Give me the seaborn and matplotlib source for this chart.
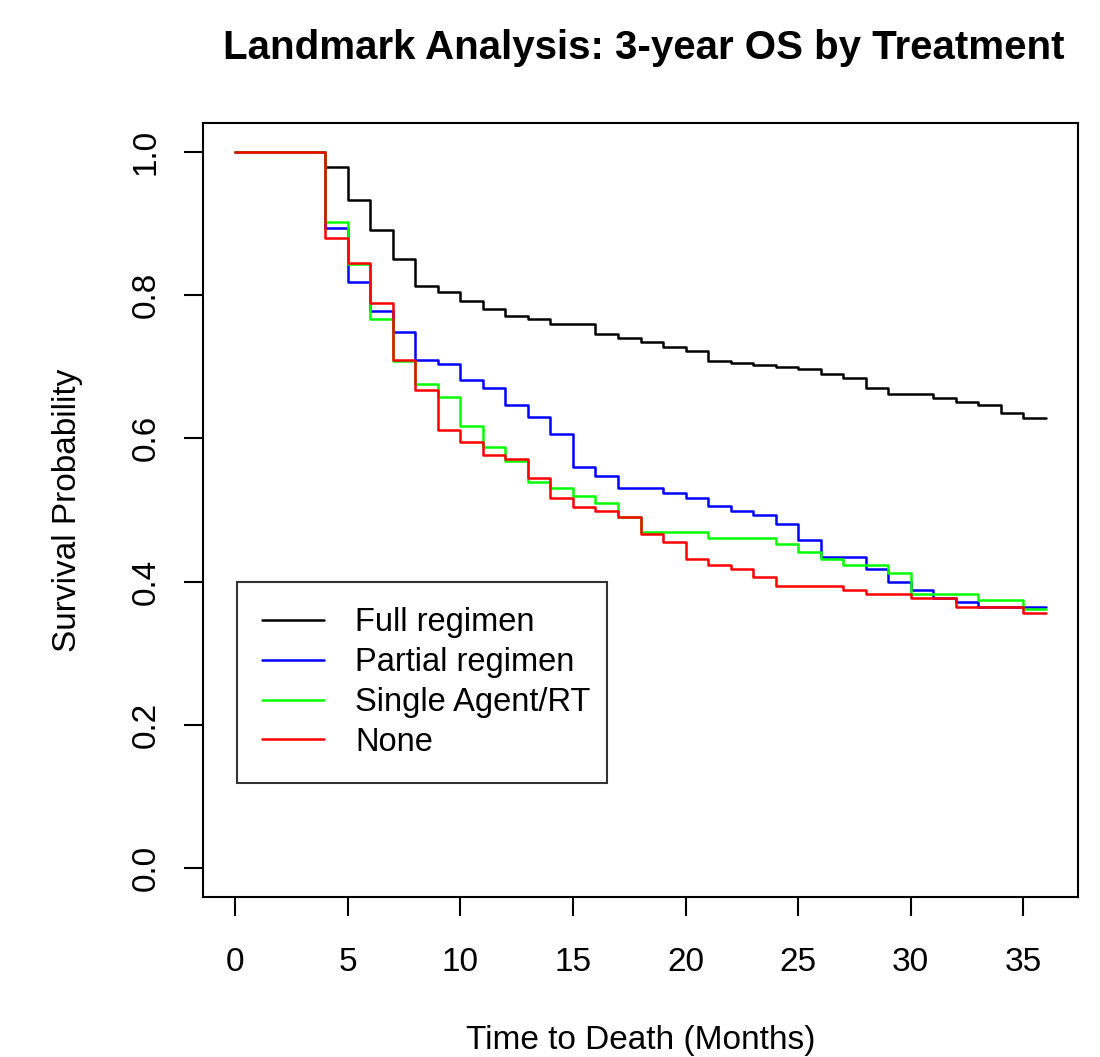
import numpy as np
import pandas as pd
import seaborn as sns
import matplotlib
matplotlib.use("Agg")
import matplotlib.pyplot as plt
from matplotlib.lines import Line2D

months = [0, 4, 5, 6, 7, 8, 9, 10, 11, 12, 13, 14, 15, 16, 17, 18, 19, 20,
          21, 22, 23, 24, 25, 26, 27, 28, 29, 30, 31, 32, 33, 34, 35, 36]

full_regimen = [1.0, 0.978, 0.932, 0.891, 0.850, 0.812, 0.804, 0.792, 0.781, 0.771,
                0.766, 0.760, 0.760, 0.745, 0.740, 0.734, 0.728, 0.722, 0.708, 0.705,
                0.702, 0.699, 0.697, 0.690, 0.684, 0.670, 0.662, 0.662, 0.656, 0.650,
                0.646, 0.635, 0.629, 0.629]
partial_regimen = [1.0, 0.893, 0.818, 0.778, 0.749, 0.710, 0.704, 0.681, 0.670, 0.647,
                   0.630, 0.606, 0.560, 0.548, 0.531, 0.531, 0.524, 0.517, 0.505, 0.498,
                   0.493, 0.481, 0.458, 0.435, 0.435, 0.417, 0.400, 0.388, 0.377, 0.371,
                   0.365, 0.365, 0.365, 0.365]
single_agent_rt = [1.0, 0.902, 0.843, 0.766, 0.708, 0.676, 0.658, 0.617, 0.588, 0.569,
                   0.539, 0.531, 0.519, 0.510, 0.490, 0.469, 0.469, 0.469, 0.461, 0.461,
                   0.461, 0.452, 0.441, 0.432, 0.423, 0.423, 0.412, 0.383, 0.383, 0.383,
                   0.374, 0.374, 0.362, 0.362]
none_tx = [1.0, 0.879, 0.844, 0.789, 0.710, 0.667, 0.612, 0.595, 0.577, 0.571,
           0.545, 0.517, 0.504, 0.498, 0.490, 0.467, 0.455, 0.432, 0.423, 0.417,
           0.406, 0.394, 0.394, 0.394, 0.388, 0.383, 0.383, 0.377, 0.377, 0.365,
           0.365, 0.365, 0.356, 0.356]

groups = ["Full regimen", "Partial regimen", "Single Agent/RT", "None"]
colors = ["#000000", "#0000FF", "#00FF00", "#FF0000"]

frames = []
for g, vals in zip(groups, [full_regimen, partial_regimen, single_agent_rt, none_tx]):
    frames.append(pd.DataFrame({"time": months, "surv": vals, "group": g}))
df = pd.concat(frames, ignore_index=True)

sns.set_style("white")
plt.rcParams["font.family"] = ["Liberation Sans", "DejaVu Sans"]
plt.rcParams["text.color"] = "black"
plt.rcParams["axes.labelcolor"] = "black"
plt.rcParams["xtick.color"] = "black"
plt.rcParams["ytick.color"] = "black"

fig = plt.figure(figsize=(11, 10.57), dpi=100)
ax = fig.add_axes([203 / 1100, 1 - 897 / 1057, 875 / 1100, 774 / 1057])

sns.lineplot(data=df, x="time", y="surv", hue="group", hue_order=groups,
             palette=colors, drawstyle="steps-post", linewidth=1.8,
             estimator=None, ax=ax, legend=False)

ax.set_xlim(-1.44, 37.44)
ax.set_ylim(-0.04, 1.04)
ax.set_xticks([0, 5, 10, 15, 20, 25, 30, 35])
ax.set_yticks([0.0, 0.2, 0.4, 0.6, 0.8, 1.0])
ax.set_yticklabels(["0.0", "0.2", "0.4", "0.6", "0.8", "1.0"])

for s in ax.spines.values():
    s.set_visible(True)
    s.set_color("black")
    s.set_linewidth(1.5)

ax.tick_params(axis="both", direction="out", length=13.7, width=1.5,
               colors="black", labelsize=24, left=True, bottom=True)
ax.tick_params(axis="x", pad=22)
ax.tick_params(axis="y", pad=16, labelrotation=90)
for lbl in ax.get_yticklabels():
    lbl.set_va("center")

ax.set_xlabel("Time to Death (Months)", fontsize=24, color="black")
ax.set_ylabel("Survival Probability", fontsize=24, color="black")
ax.xaxis.label.set_va("center")
ax.yaxis.label.set_va("center")
ax.xaxis.set_label_coords(0.5, (897 - 1041) / 774)
ax.yaxis.set_label_coords((68 - 203) / 875, (897 - 510) / 774)

fig.text(644 / 1100, 1 - 59.3 / 1057, "Landmark Analysis: 3-year OS by Treatment",
         ha="center", va="baseline", fontsize=29, fontweight="bold", color="black")

handles = [Line2D([0], [0], color=c, linewidth=1.8) for c in colors]
x0 = (237 - 203) / 875
w = (607 - 237) / 875
ytop = (897 - 582) / 774
leg = ax.legend(handles, groups, loc="upper left", mode="expand",
                bbox_to_anchor=(x0, ytop - 0.3, w, 0.3),
                borderaxespad=0, fontsize=23.5, frameon=True, fancybox=False,
                handlelength=1.9, handletextpad=0.95, borderpad=0.78,
                labelspacing=0.27)
leg.get_frame().set_edgecolor("black")
leg.get_frame().set_linewidth(1.5)
for t in leg.get_texts():
    t.set_color("black")

fig.savefig("out.png", dpi=100, facecolor="white")
